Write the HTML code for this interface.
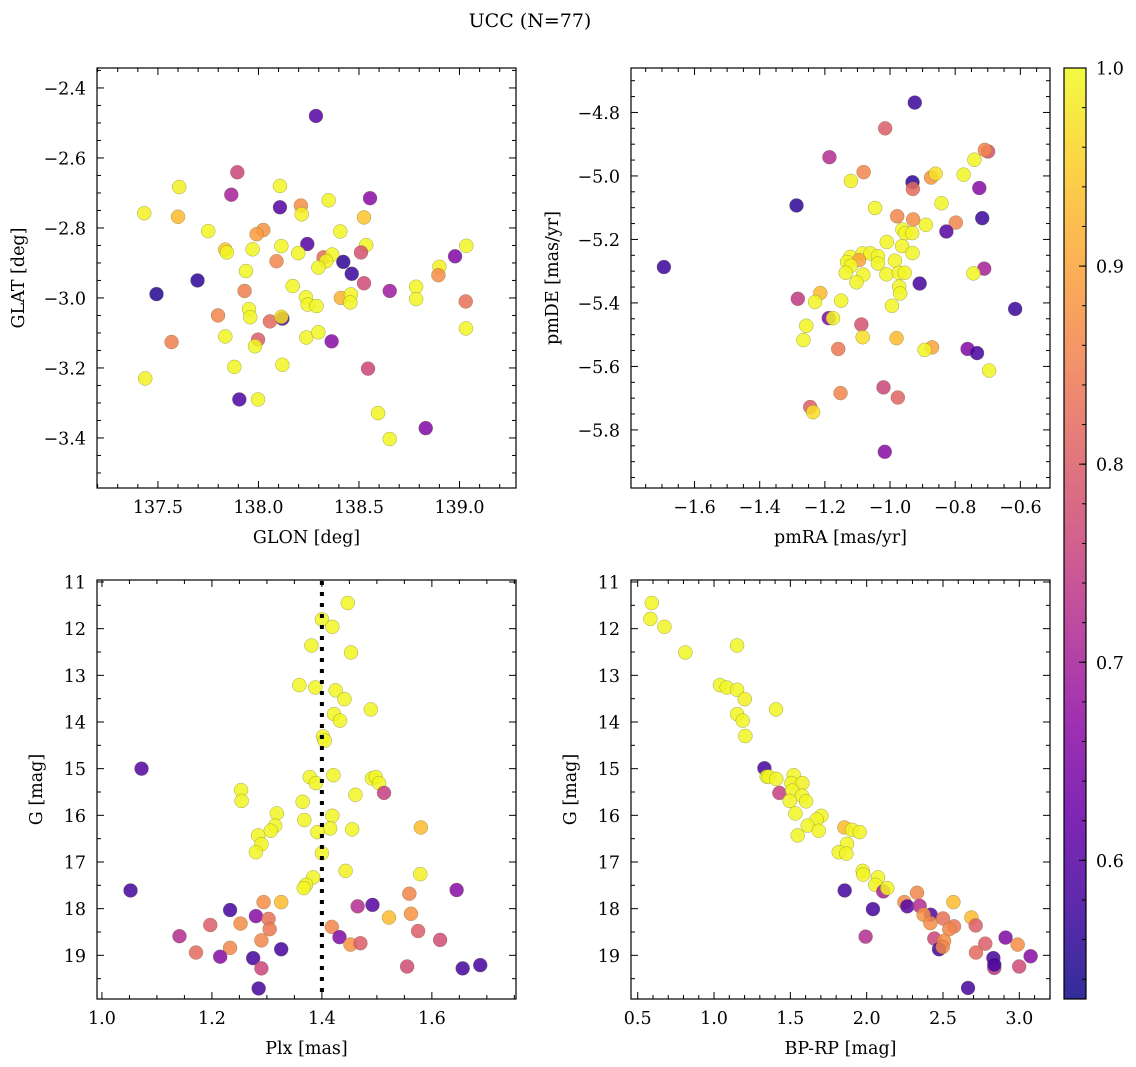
<!DOCTYPE html>
<html><head><meta charset="utf-8"><style>
body{margin:0;background:#fff}
svg{display:block;font-family:"DejaVu Serif","Liberation Serif",serif}
</style></head><body>
<svg id="fig" width="1136" height="1067" viewBox="0 0 1136 1067" xmlns="http://www.w3.org/2000/svg">
<text x="530" y="27" font-size="19" text-anchor="middle">UCC (N=77)</text>
</svg>
<script>
// ---- data ----
const glon=[138.286,137.895,137.606,138.107,137.865,138.555,137.432,137.600,138.107,138.211,138.215,138.349,138.525,137.750,138.024,137.991,138.407,137.835,137.843,137.971,138.114,138.243,138.198,138.536,138.510,139.034,138.324,138.367,138.337,138.298,138.090,138.422,138.464,138.978,138.900,138.895,137.938,137.697,137.493,138.170,137.931,138.525,138.653,138.784,138.784,138.236,138.245,138.289,138.410,138.460,138.457,139.031,137.953,137.959,137.799,138.057,138.119,138.114,137.835,137.568,137.998,137.983,138.238,138.298,138.364,139.032,137.880,138.119,138.545,137.437,137.905,137.998,138.595,138.653,138.832];
const glat=[-2.480,-2.641,-2.683,-2.680,-2.705,-2.715,-2.758,-2.768,-2.741,-2.736,-2.761,-2.721,-2.770,-2.809,-2.806,-2.818,-2.810,-2.862,-2.870,-2.861,-2.852,-2.846,-2.872,-2.849,-2.870,-2.851,-2.884,-2.876,-2.895,-2.913,-2.895,-2.897,-2.931,-2.881,-2.911,-2.935,-2.923,-2.950,-2.989,-2.966,-2.980,-2.958,-2.980,-2.968,-3.003,-2.998,-3.019,-3.023,-3.000,-2.990,-3.013,-3.010,-3.032,-3.055,-3.050,-3.067,-3.059,-3.054,-3.110,-3.126,-3.119,-3.138,-3.113,-3.098,-3.124,-3.087,-3.197,-3.191,-3.202,-3.230,-3.290,-3.290,-3.329,-3.403,-3.372];
const prob1=[0.6,0.76,0.99,0.995,0.7,0.66,0.99,0.93,0.6,0.87,0.99,0.995,0.94,0.995,0.88,0.89,0.995,0.94,0.995,0.995,0.995,0.6,0.995,0.995,0.78,0.995,0.82,0.995,0.995,0.995,0.86,0.56,0.57,0.65,0.99,0.87,0.995,0.56,0.55,0.995,0.85,0.77,0.69,0.995,0.995,0.995,0.995,0.995,0.92,0.995,0.995,0.83,0.995,0.995,0.86,0.82,0.58,0.97,0.995,0.85,0.8,0.995,0.995,0.995,0.66,0.995,0.995,0.995,0.76,0.99,0.59,0.995,0.995,0.995,0.65];
const pmra=[-0.924,-1.015,-1.186,-0.699,-0.709,-0.741,-1.081,-1.120,-0.874,-0.860,-0.774,-0.931,-0.930,-0.726,-1.287,-1.046,-0.842,-0.978,-0.929,-0.798,-0.717,-0.890,-0.962,-0.953,-0.932,-0.827,-1.010,-0.963,-0.931,-1.122,-1.084,-1.060,-1.037,-1.095,-1.132,-1.120,-1.037,-0.985,-1.136,-1.082,-1.011,-0.973,-0.955,-1.103,-0.711,-0.744,-0.909,-0.972,-0.969,-1.283,-1.214,-1.230,-1.150,-0.994,-0.616,-1.188,-1.175,-1.088,-1.257,-1.084,-0.980,-1.266,-1.159,-0.871,-0.894,-0.762,-0.733,-0.696,-1.152,-1.020,-0.976,-1.245,-1.236,-1.016,-1.694];
const pmde=[-4.769,-4.850,-4.941,-4.923,-4.918,-4.949,-4.988,-5.016,-5.005,-4.993,-4.996,-5.020,-5.041,-5.038,-5.093,-5.101,-5.086,-5.127,-5.137,-5.147,-5.133,-5.154,-5.169,-5.180,-5.180,-5.175,-5.208,-5.221,-5.243,-5.255,-5.244,-5.244,-5.253,-5.265,-5.271,-5.283,-5.276,-5.267,-5.305,-5.311,-5.310,-5.305,-5.305,-5.335,-5.292,-5.307,-5.339,-5.349,-5.370,-5.387,-5.369,-5.397,-5.393,-5.409,-5.419,-5.448,-5.448,-5.468,-5.472,-5.508,-5.511,-5.517,-5.545,-5.540,-5.548,-5.545,-5.558,-5.613,-5.684,-5.666,-5.698,-5.728,-5.744,-5.869,-5.287];
const prob2=[0.57,0.8,0.72,0.78,0.86,0.995,0.86,0.99,0.88,0.97,0.995,0.56,0.82,0.66,0.56,0.995,0.995,0.86,0.87,0.86,0.57,0.995,0.995,0.995,0.995,0.6,0.995,0.995,0.995,0.995,0.995,0.995,0.995,0.9,0.995,0.995,0.995,0.995,0.995,0.995,0.995,0.995,0.995,0.995,0.7,0.995,0.58,0.995,0.995,0.74,0.93,0.995,0.995,0.995,0.57,0.65,0.995,0.78,0.995,0.97,0.93,0.995,0.84,0.9,0.995,0.65,0.58,0.995,0.86,0.76,0.81,0.8,0.97,0.66,0.57];
const plx=[1.447,1.400,1.419,1.381,1.453,1.359,1.388,1.425,1.441,1.489,1.422,1.433,1.402,1.405,1.072,1.378,1.389,1.421,1.491,1.498,1.504,1.513,1.253,1.254,1.461,1.365,1.318,1.419,1.368,1.315,1.307,1.415,1.455,1.580,1.392,1.284,1.290,1.280,1.400,1.443,1.579,1.384,1.371,1.367,1.052,1.645,1.559,1.294,1.326,1.465,1.492,1.233,1.280,1.303,1.522,1.562,1.197,1.252,1.305,1.418,1.575,1.141,1.432,1.290,1.615,1.452,1.470,1.171,1.233,1.326,1.215,1.275,1.290,1.555,1.656,1.688,1.285];
const gmag3=[11.45,11.80,11.96,12.36,12.51,13.21,13.26,13.32,13.51,13.73,13.83,13.97,14.31,14.40,15.00,15.18,15.31,15.14,15.21,15.18,15.31,15.52,15.46,15.69,15.56,15.71,15.96,16.01,16.10,16.22,16.33,16.28,16.30,16.26,16.36,16.43,16.62,16.79,16.81,17.19,17.26,17.33,17.49,17.56,17.61,17.60,17.68,17.86,17.86,17.95,17.92,18.03,18.16,18.22,18.19,18.11,18.35,18.32,18.44,18.39,18.48,18.59,18.61,18.68,18.67,18.77,18.74,18.94,18.84,18.87,19.03,19.06,19.28,19.24,19.28,19.21,19.71];
const prob3=[0.995,0.995,0.995,0.995,0.995,0.995,0.995,0.995,0.995,0.995,0.995,0.995,0.995,0.995,0.6,0.995,0.995,0.995,0.995,0.995,0.995,0.75,0.995,0.995,0.995,0.995,0.995,0.995,0.995,0.995,0.995,0.995,0.995,0.93,0.995,0.995,0.995,0.995,0.995,0.99,0.99,0.995,0.995,0.995,0.58,0.66,0.86,0.87,0.93,0.72,0.6,0.58,0.66,0.83,0.93,0.88,0.8,0.87,0.84,0.86,0.8,0.72,0.65,0.86,0.77,0.88,0.8,0.82,0.86,0.58,0.66,0.58,0.76,0.77,0.58,0.58,0.58];
const bprp=[0.592,0.583,0.675,0.812,1.151,1.039,1.083,1.151,1.201,1.406,1.151,1.188,1.205,1.330,1.345,1.358,1.408,1.428,1.522,1.507,1.579,1.513,1.576,1.496,1.603,1.533,1.703,1.672,1.614,1.686,1.854,1.904,1.954,1.548,1.871,1.817,1.867,1.974,1.978,2.074,2.057,2.109,2.135,1.856,2.330,2.568,2.247,2.266,2.347,2.041,2.419,2.373,2.686,2.500,2.417,2.714,2.572,2.541,1.993,2.910,2.443,2.507,2.777,2.989,2.474,2.498,2.716,2.830,3.074,2.836,2.999,2.664,2.836];
const gmag4=[11.45,11.79,11.96,12.51,12.36,13.21,13.26,13.31,13.51,13.73,13.83,13.97,14.30,14.99,15.17,15.17,15.22,15.52,15.14,15.31,15.31,15.47,15.58,15.69,15.70,15.96,16.01,16.09,16.22,16.33,16.26,16.31,16.36,16.43,16.61,16.79,16.82,17.19,17.27,17.33,17.49,17.63,17.56,17.61,17.66,17.86,17.86,17.95,17.94,18.01,18.13,18.13,18.19,18.21,18.31,18.36,18.38,18.44,18.60,18.62,18.64,18.69,18.75,18.77,18.87,18.82,18.94,19.06,19.02,19.27,19.24,19.70,19.20];
const prob4=[0.995,0.995,0.995,0.995,0.995,0.995,0.995,0.995,0.99,0.995,0.995,0.995,0.995,0.58,0.995,0.995,0.995,0.75,0.995,0.995,0.99,0.995,0.995,0.995,0.995,0.995,0.995,0.995,0.995,0.995,0.93,0.995,0.995,0.995,0.995,0.995,0.995,0.995,0.995,0.995,0.995,0.7,0.995,0.58,0.86,0.93,0.87,0.6,0.72,0.58,0.6,0.88,0.93,0.83,0.87,0.8,0.84,0.86,0.72,0.65,0.76,0.87,0.8,0.87,0.58,0.86,0.82,0.58,0.66,0.73,0.77,0.58,0.58];
const cbTicks=[0.6,0.7,0.8,0.9,1.0];

const svg=document.getElementById('fig');
const NS='http://www.w3.org/2000/svg';
function mk(tag,attrs,parent){const e=document.createElementNS(NS,tag);for(const k in attrs)e.setAttribute(k,attrs[k]);(parent||svg).appendChild(e);return e;}
const plasma=['#0d0887','#41049d','#6a00a8','#8f0da4','#b12a90','#cc4778','#e16462','#f2844b','#fca636','#fcce25','#f0f921'];
function hex(h){return [1,3,5].map(i=>parseInt(h.substr(i,2),16));}
const VMIN=0.53,VMAX=1.0;
function cmap(v){let t=(v-VMIN)/(VMAX-VMIN);t=Math.max(0,Math.min(1,t));const f=t*10,i=Math.min(9,Math.floor(f)),r=f-i;const a=hex(plasma[i]),b=hex(plasma[i+1]);return 'rgb('+a.map((c,k)=>Math.round(c+(b[k]-c)*r)).join(',')+')';}
const FS=17.5;
function panel(o){
  const g=mk('g',{});
  
  
  const sx=v=>o.x0+(v-o.xd[0])/(o.xd[1]-o.xd[0])*(o.x1-o.x0);
  const sy=v=>o.y0+(v-o.yd[0])/(o.yd[1]-o.yd[0])*(o.y1-o.y0);
  for(let i=0;i<o.xs.length;i++){
    const c=mk('circle',{cx:sx(o.xs[i]),cy:sy(o.ys[i]),r:7,fill:cmap(o.ps[i]),'fill-opacity':0.85,stroke:'#707040','stroke-width':0.5,'stroke-opacity':0.6},g);
    
    
  }
  if(o.vline!==undefined){const l=mk('line',{x1:sx(o.vline),x2:sx(o.vline),y1:o.y0+1,y2:o.y1,stroke:'#000','stroke-width':4,'stroke-dasharray':'4,7'},g);
    }
  mk('rect',{x:o.x0,y:o.y0,width:o.x1-o.x0,height:o.y1-o.y0,fill:'none',stroke:'#000','stroke-width':1.2},g);
  const lo=Math.min(o.xd[0],o.xd[1]),hi=Math.max(o.xd[0],o.xd[1]);
  for(let k=Math.ceil(lo/o.xmin-1e-6);k*o.xmin<=hi+1e-9;k++){const v=k*o.xmin,x=sx(v);
    const maj=Math.abs(v/o.xmaj-Math.round(v/o.xmaj))<1e-6;const L=maj?7:4;
    mk('line',{x1:x,x2:x,y1:o.y1,y2:o.y1-L,stroke:'#000','stroke-width':1},g);
    mk('line',{x1:x,x2:x,y1:o.y0,y2:o.y0+L,stroke:'#000','stroke-width':1},g);
    if(maj){const t=mk('text',{x:x,y:o.y1+25,'font-size':FS,'text-anchor':'middle'},g);t.textContent=o.xfmt(v).replace('-','\u2212');
      }}
  const ylo=Math.min(o.yd[0],o.yd[1]),yhi=Math.max(o.yd[0],o.yd[1]);
  for(let k=Math.ceil(ylo/o.ymin-1e-6);k*o.ymin<=yhi+1e-9;k++){const v=k*o.ymin,y=sy(v);
    const maj=Math.abs(v/o.ymaj-Math.round(v/o.ymaj))<1e-6;const L=maj?7:4;
    mk('line',{x1:o.x0,x2:o.x0+L,y1:y,y2:y,stroke:'#000','stroke-width':1},g);
    mk('line',{x1:o.x1,x2:o.x1-L,y1:y,y2:y,stroke:'#000','stroke-width':1},g);
    if(maj){const t=mk('text',{x:o.x0-11,y:y+6.5,'font-size':FS,'text-anchor':'end'},g);t.textContent=o.yfmt(v).replace('-','\u2212');
      }}
  const xl=mk('text',{x:(o.x0+o.x1)/2,y:o.y1+55,'font-size':FS,'text-anchor':'middle'},g);xl.textContent=o.xlab;
  
  const yx=o.x0-o.ylabOff,yy=(o.y0+o.y1)/2;
  const yl=mk('text',{x:yx,y:yy,'font-size':FS,'text-anchor':'middle',transform:'rotate(-90 '+yx+' '+yy+')'},g);yl.textContent=o.ylab;
  
}
const f1=v=>v.toFixed(1),f0=v=>v.toFixed(0);
panel({name:'glon-glat-panel',x0:97,x1:516,y0:68,y1:488,xd:[137.197,139.281],yd:[-2.343,-3.543],xs:glon,ys:glat,ps:prob1,xmaj:0.5,xmin:0.1,ymaj:0.2,ymin:0.05,xfmt:f1,yfmt:f1,xlab:'GLON [deg]',ylab:'GLAT [deg]',ylabOff:73});
panel({name:'pm-panel',x0:631,x1:1050,y0:68,y1:488,xd:[-1.795,-0.509],yd:[-4.660,-5.983],xs:pmra,ys:pmde,ps:prob2,xmaj:0.2,xmin:0.05,ymaj:0.2,ymin:0.05,xfmt:f1,yfmt:f1,xlab:'pmRA [mas/yr]',ylab:'pmDE [mas/yr]',ylabOff:73});
panel({name:'plx-g-panel',x0:97,x1:516,y0:580,y1:999,xd:[0.991,1.753],yd:[10.957,19.936],xs:plx,ys:gmag3,ps:prob3,xmaj:0.2,xmin:0.05,ymaj:1,ymin:0.5,xfmt:f1,yfmt:f0,xlab:'Plx [mas]',ylab:'G [mag]',ylabOff:55,vline:1.4});
panel({name:'cmd-panel',x0:631,x1:1050,y0:580,y1:999,xd:[0.456,3.201],yd:[10.957,19.936],xs:bprp,ys:gmag4,ps:prob4,xmaj:0.5,xmin:0.1,ymaj:1,ymin:0.5,xfmt:f1,yfmt:f0,xlab:'BP-RP [mag]',ylab:'G [mag]',ylabOff:55});

// colorbar
const cb=mk('g',{});


const defs=mk('defs',{},svg);const lg=mk('linearGradient',{id:'cbg',x1:0,y1:1,x2:0,y2:0},defs);
for(let i=0;i<=20;i++){const v=VMIN+(VMAX-VMIN)*i/20;mk('stop',{offset:i/20,'stop-color':cmap(v),'stop-opacity':0.85},lg);}
const CB={x:1064,w:22,y0:68,y1:999};
const cby=v=>CB.y1-(v-VMIN)/(VMAX-VMIN)*(CB.y1-CB.y0);
mk('rect',{x:CB.x,y:CB.y0,width:CB.w,height:CB.y1-CB.y0,fill:'url(#cbg)',stroke:'#000','stroke-width':1.2},cb);
for(let k=27;k<=50;k++){const v=k*0.02;if(v<VMIN)continue;const y=cby(v);mk('line',{x1:CB.x+CB.w,x2:CB.x+CB.w-4,y1:y,y2:y,stroke:'#000','stroke-width':1},cb);}
cbTicks.forEach(v=>{const y=cby(v);mk('line',{x1:CB.x+CB.w,x2:CB.x+CB.w-7,y1:y,y2:y,stroke:'#000','stroke-width':1},cb);
  const t=mk('text',{x:CB.x+CB.w+10,y:y+6.5,'font-size':FS},cb);t.textContent=v.toFixed(1);
  });
</script>
</body></html>
